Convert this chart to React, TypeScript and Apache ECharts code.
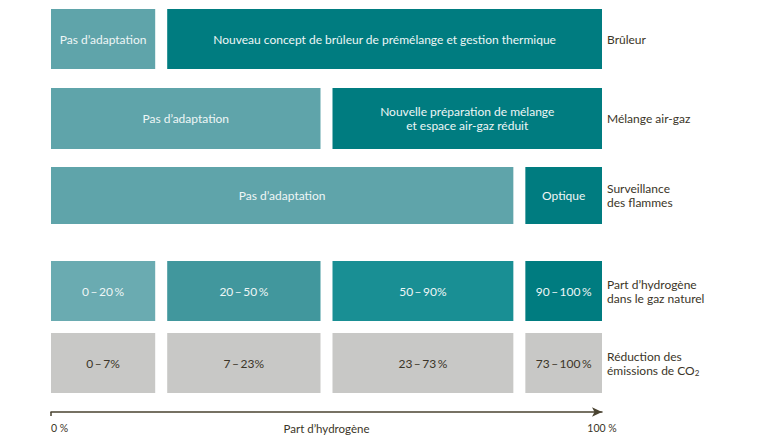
import React, { useEffect, useRef } from 'react';
import * as echarts from 'echarts';

// axis positions of the steps (drawing is not to scale: 90 % sits at 85)
const stepPositions = [0, 20, 50, 85, 100];

const rowNames = [
  'Brûleur',
  'Mélange air-gaz',
  'Surveillance\ndes flammes',
  'Part d’hydrogène\ndans le gaz naturel',
  'Réduction des\némissions de CO{sub|2}',
];

// [row, fromStep, toStep, label]
const burnerSegments = [
  [0, 0, 1, 'Pas d’adaptation'],
  [0, 1, 4, 'Nouveau concept de brûleur de prémélange et gestion thermique'],
];
const mixSegments = [
  [1, 0, 2, 'Pas d’adaptation'],
  [1, 2, 4, 'Nouvelle préparation de mélange\net espace air-gaz réduit'],
];
const flameSegments = [
  [2, 0, 3, 'Pas d’adaptation'],
  [2, 3, 4, 'Optique'],
];
const hydrogenSegments = [
  [3, 0, 1, '0\u2009–\u200920\u2009%'],
  [3, 1, 2, '20\u2009–\u200950\u2009%'],
  [3, 2, 3, '50\u2009–\u200990%'],
  [3, 3, 4, '90\u2009–\u2009100\u2009%'],
];
const co2Segments = [
  [4, 0, 1, '0\u2009–\u20097%'],
  [4, 1, 2, '7\u2009–\u200923%'],
  [4, 2, 3, '23\u2009–\u200973\u2009%'],
  [4, 3, 4, '73\u2009–\u2009100\u2009%'],
];

const axisTicks = ['0 %', '100 %'];
const axisName = 'Part d’hydrogène';

// layout (pixel rows on an inverted 0..412 axis)
const rowSpans = [
  [9, 69],
  [88, 149],
  [167, 224],
  [261, 321],
  [333, 393],
];
const LIGHT = '#5fa4aa';
const DARK = '#007c80';
const GREY = '#c8c8c6';
const segmentColors = [
  [LIGHT, DARK],
  [LIGHT, DARK],
  [LIGHT, DARK],
  ['#6aabb1', '#41979d', '#198f94', DARK],
  [GREY, GREY, GREY, GREY],
];
const FONT = 'Lato, "Noto Sans", sans-serif';
const TEXT_DARK = '#3b3528';

export default function App() {
  const chartRef = useRef<HTMLDivElement>(null);

  useEffect(() => {
    if (!chartRef.current) return;
    const chart = echarts.init(chartRef.current, null, { renderer: 'svg' });

    const segments = [
      ...burnerSegments,
      ...mixSegments,
      ...flameSegments,
      ...hydrogenSegments,
      ...co2Segments,
    ] as [number, number, number, string][];

    const rowCount: number[] = [0, 0, 0, 0, 0];
    const data = segments.map(([row, from, to, label]) => {
      const idx = rowCount[row]++;
      return {
        value: [stepPositions[from], stepPositions[to], row],
        label,
        color: segmentColors[row][idx],
      };
    });

    const option = {
      animation: false,
      grid: { left: 51, right: 158, top: 0, bottom: 28, outerBoundsMode: 'none', containLabel: false },
      xAxis: {
        type: 'value',
        min: 0,
        max: 100,
        interval: 100,
        position: 'bottom',
        name: axisName,
        nameLocation: 'middle',
        nameGap: 16,
        nameMoveOverlap: false,
        nameTextStyle: { color: TEXT_DARK, fontFamily: FONT, fontSize: 11.5, verticalAlign: 'middle' },
        axisLine: {
          show: true,
          onZero: false,
          symbol: ['none', 'arrow'],
          symbolSize: [7, 10],
          lineStyle: { color: '#4a4331', width: 1.5 },
        },
        axisTick: {
          show: true,
          customValues: [0],
          length: 4,
          lineStyle: { color: '#4a4331', width: 1.5 },
        },
        splitLine: { show: false },
        axisLabel: {
          color: TEXT_DARK,
          fontFamily: FONT,
          fontSize: 10.5,
          margin: 10,
          alignMinLabel: 'left',
          alignMaxLabel: 'center',
          formatter: (v: number) => (v === 0 ? axisTicks[0] : axisTicks[1]),
        },
      },
      yAxis: {
        type: 'value',
        min: 0,
        max: 412,
        inverse: true,
        show: false,
      },
      series: [
        {
          type: 'custom',
          data: data.map((d) => d.value),
          renderItem: (params: any, api: any) => {
            const d = data[params.dataIndex];
            const from = api.value(0);
            const to = api.value(1);
            const row = api.value(2);
            const [top, bottom] = rowSpans[row];
            const x0 = api.coord([from, 0])[0] + (from > 0 ? 6 : 0);
            const x1 = api.coord([to, 0])[0] - (to < 100 ? 6 : 0);
            const y0 = api.coord([0, top])[1];
            const y1 = api.coord([0, bottom])[1];
            return {
              type: 'group',
              children: [
                {
                  type: 'rect',
                  shape: { x: x0, y: y0, width: x1 - x0, height: y1 - y0 },
                  style: { fill: d.color },
                },
                {
                  type: 'text',
                  style: {
                    text: d.label,
                    x: (x0 + x1) / 2,
                    y: (y0 + y1) / 2,
                    align: 'center',
                    verticalAlign: 'middle',
                    fill: row === 4 ? TEXT_DARK : '#eef6f6',
                    font: `12px ${FONT}`,
                    lineHeight: 14,
                  },
                },
              ],
            };
          },
        },
        {
          type: 'custom',
          data: rowNames.map((_, i) => [100, i]),
          renderItem: (params: any, api: any) => {
            const row = api.value(1);
            const [top, bottom] = rowSpans[row];
            const x = api.coord([100, 0])[0] + 5;
            const y = api.coord([0, (top + bottom) / 2])[1];
            return {
              type: 'text',
              style: {
                text: rowNames[params.dataIndex],
                x,
                y,
                align: 'left',
                verticalAlign: 'middle',
                fill: TEXT_DARK,
                font: `12px ${FONT}`,
                lineHeight: 14,
                rich: {
                  sub: {
                    fontSize: 8,
                    fontFamily: FONT,
                    verticalAlign: 'bottom',
                    padding: [5, 0, 0, 0],
                    fill: TEXT_DARK,
                    color: TEXT_DARK,
                  },
                },
              },
            };
          },
        },
      ],
    };

    chart.setOption(option);
    return () => chart.dispose();
  }, []);

  return (
    <div
      ref={chartRef}
      style={{ position: 'fixed', left: 0, top: 0, width: 760, height: 440, background: '#fff' }}
    />
  );
}
